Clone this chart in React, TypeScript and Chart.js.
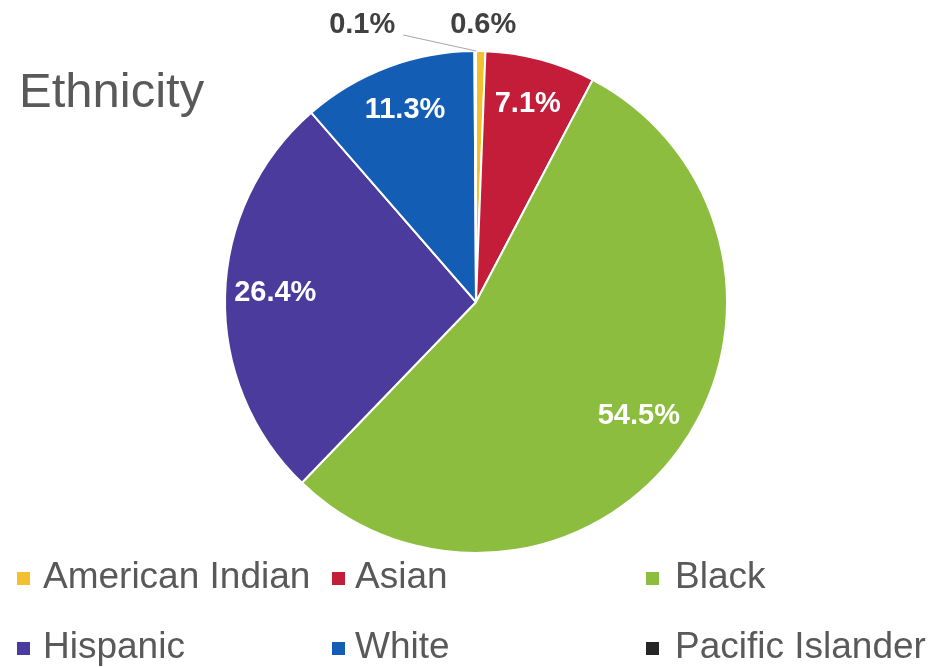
import React, { useEffect, useRef } from "react";
import { Chart, registerables } from "chart.js";

Chart.register(...registerables);

const categories = ["American Indian", "Asian", "Black", "Hispanic", "White", "Pacific Islander"];
const shares = [0.6, 7.1, 54.5, 26.4, 11.3, 0.1];
const colors = ["#f3c02f", "#c41d3a", "#8cbd3f", "#4a3b9c", "#135db5", "#262626"];
const titleText = "Ethnicity";

const FONT = "'Liberation Sans', Arial, sans-serif";

const labelsPlugin = {
  id: "sliceLabels",
  afterDatasetsDraw(chart: any) {
    const ctx = chart.ctx;
    const meta = chart.getDatasetMeta(0);
    const data = chart.data.datasets[0].data as number[];
    ctx.save();
    ctx.textAlign = "center";
    ctx.textBaseline = "middle";
    meta.data.forEach((arc: any, i: number) => {
      const { x, y, startAngle, endAngle, outerRadius } = arc.getProps(
        ["x", "y", "startAngle", "endAngle", "outerRadius"],
        true
      );
      const mid = (startAngle + endAngle) / 2;
      const text = data[i].toFixed(1) + "%";
      ctx.font = `bold 29px ${FONT}`;
      if (data[i] >= 1) {
        const r = outerRadius * 0.8;
        ctx.fillStyle = "#ffffff";
        ctx.fillText(text, x + Math.cos(mid) * r, y + Math.sin(mid) * r - 4);
      } else {
        ctx.fillStyle = "#404040";
        const ax = x + Math.cos(mid) * outerRadius;
        const ay = y + Math.sin(mid) * outerRadius;
        const normAng = ((mid % (2 * Math.PI)) + 2 * Math.PI) % (2 * Math.PI);
        if (normAng > 1.5 * Math.PI - 0.01 && Math.cos(mid) < 0) {
          const lx = ax - 113;
          const ly = ay - 26;
          ctx.fillText(text, lx, ly);
          ctx.strokeStyle = "#a6a6a6";
          ctx.lineWidth = 1;
          ctx.beginPath();
          ctx.moveTo(lx + 41, ly + 10);
          ctx.lineTo(ax + 1, ay);
          ctx.stroke();
        } else {
          const r = outerRadius + 26;
          ctx.fillText(text, x + Math.cos(mid) * r + 2, y + Math.sin(mid) * r);
        }
      }
    });
    ctx.restore();
  },
};

const decorPlugin = {
  id: "decor",
  afterDraw(chart: any) {
    const ctx = chart.ctx;
    ctx.save();
    ctx.font = `49px ${FONT}`;
    ctx.fillStyle = "#595959";
    ctx.textAlign = "left";
    ctx.textBaseline = "alphabetic";
    ctx.fillText(titleText, 19, 107);
    const squareX = [17, 332, 646];
    const textX = [43, 355, 675];
    const rowBase = [588, 658];
    ctx.font = `37px ${FONT}`;
    categories.forEach((name, i) => {
      const col = i % 3;
      const row = Math.floor(i / 3);
      ctx.fillStyle = colors[i];
      ctx.fillRect(squareX[col], rowBase[row] - 16, 13, 13);
      ctx.fillStyle = "#595959";
      ctx.fillText(name, textX[col], rowBase[row]);
    });
    ctx.restore();
  },
};

export default function App() {
  const ref = useRef<HTMLCanvasElement | null>(null);
  useEffect(() => {
    if (!ref.current) return;
    const chart = new Chart(ref.current, {
      type: "pie",
      data: {
        labels: categories,
        datasets: [
          {
            data: shares,
            backgroundColor: colors,
            borderColor: "#ffffff",
            borderWidth: 2,
          },
        ],
      },
      options: {
        responsive: false,
        animation: false,
        rotation: 0,
        layout: { padding: { top: 50, bottom: 113, left: 224, right: 214 } },
        plugins: {
          legend: { display: false },
          title: { display: false },
          tooltip: { enabled: false },
        },
      },
      plugins: [labelsPlugin, decorPlugin],
    });
    return () => chart.destroy();
  }, []);
  return (
    <div style={{ position: "absolute", left: 0, top: 0, width: 942, height: 667, background: "#ffffff" }}>
      <canvas ref={ref} width={942} height={667} style={{ display: "block" }} />
    </div>
  );
}
